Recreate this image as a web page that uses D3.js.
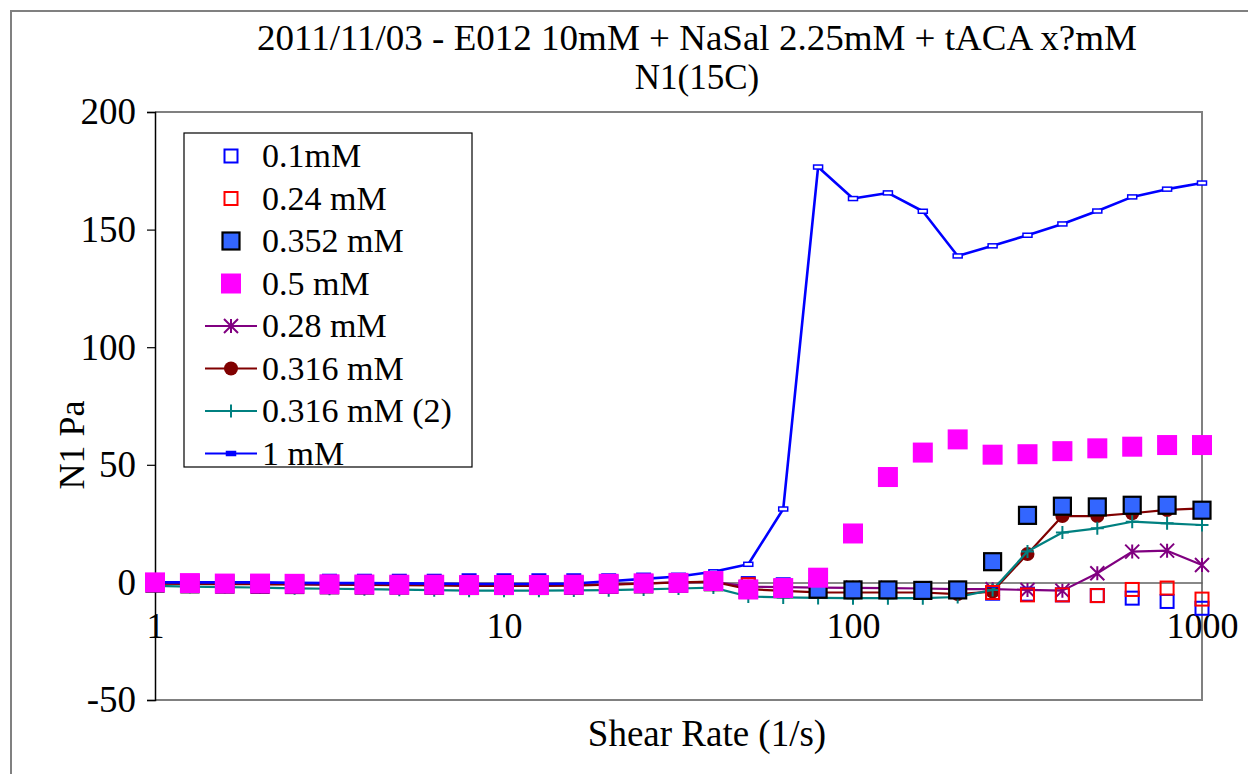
<!DOCTYPE html>
<html lang="en">
<head>
<meta charset="UTF-8">
<title>N1(15C)</title>
<script src="https://d3js.org/d3.v7.min.js"></script>
<style>
    body { margin: 0; padding: 0; background: white; }
    svg { display: block; font-family: "Liberation Serif", "Times New Roman", serif; }
</style>
</head>
<body>
<div id="chart"></div>
<script>
// shear rate (1/s)
const shearRate = [1, 1.259, 1.585, 2, 2.512, 3.162, 3.981, 5.012, 6.31, 7.943,
    10, 12.59, 15.85, 19.95, 25.12, 31.62, 39.81, 50.12, 63.1, 79.43,
    100, 125.9, 158.5, 199.5, 251.2, 316.2, 398.1, 501.2, 631, 794.3, 1000];

// N1 (Pa) per tACA concentration
const n1_01 = [0.3, 0.3, 0.3, 0.3, 0.3, 0.5, 0.5, 0.5, 0.5, 0.7, 0.7, 0.7, 0.7, 0.7, 1, 1, 1.5,
    -0.5, -1, -3.5, -3.5, -3.5, -3.5, -3.5, -4.6, -5, -5.3, -5.6, -6.7, -8.1, -11];
const n1_024 = [0, 0, 0, 0, 0, 0, 0, 0, 0, 0, 0, 0, 0, 0, 0, 0, 0,
    -1, -1.5, -3.5, -3.5, -3.5, -3.5, -3.5, -4.3, -5.3, -5.3, -5.6, -3, -2.4, -7.1];
const n1_0352 = [-0.3, -0.6, -0.7, -0.8, -0.9, -1, -1.1, -1.1, -1.2, -1.3, -1.3, -1.3, -1.2, -0.8, -0.6, -0.3, 0.3,
    -3, -2.6, -2.9, -3.2, -3.2, -3.4, -3.2, 8.8, 28.5, 32.4, 32.1, 32.8, 32.8, 30.7];
const n1_05 = [0, -0.3, -0.5, -0.5, -0.6, -0.8, -0.9, -1, -1, -1.1, -1.1, -1.1, -1, -0.6, -0.4, -0.2, 0.6,
    -3, -2.4, 2, 20.8, 44.8, 55.2, 60.8, 54.3, 54.5, 55.8, 57, 57.7, 58.4, 58.4];
const n1_028 = [-0.3, -0.4, -0.5, -0.6, -0.7, -0.8, -0.9, -1, -1.1, -1.2, -1.2, -1.2, -1.1, -0.8, -0.4, 0, 0.2,
    -1.8, -2, -2.2, -2.3, -2.4, -2.6, -2.9, -2.9, -3.2, -3.5, 3.9, 13.1, 13.5, 7.4];
const n1_0316 = [-0.5, -0.6, -0.7, -0.8, -0.9, -1, -1.1, -1.2, -1.3, -1.5, -1.5, -1.5, -1.4, -1, -0.5, 0, 0.3,
    -2.9, -3.6, -4.2, -4.3, -4.3, -4.3, -5, -3.9, 12.1, 28.2, 28.2, 29.4, 30.8, 31.5];
const n1_0316b = [-1.5, -1.8, -2, -2.2, -2.5, -2.7, -2.9, -3.1, -3.3, -3.5, -3.5, -3.5, -3.4, -3.3, -3, -2.6, -2.2,
    -6, -6.4, -6.6, -6.7, -6.7, -6.7, -6.2, -3.2, 13.1, 21.2, 23, 25.8, 25.1, 24.4];
const n1_1 = [0, 0, 0, 0, -0.2, -0.3, -0.3, -0.4, -0.5, -0.7, -0.7, -0.7, -0.5, 0.5, 1.5, 2.5, 4.5,
    7.7, 31.2, 176.6, 163.2, 165.6, 157.8, 138.8, 143.1, 147.6, 152.4, 157.9, 163.9, 167.2, 169.8];

const xTicks = [1, 10, 100, 1000];
const yTicks = [-50, 0, 50, 100, 150, 200];

// series: name, values, colour, marker, line?
const series = [
    { name: "0.1mM", values: n1_01, color: "#0000ff", marker: "open", line: false },
    { name: "0.24 mM", values: n1_024, color: "#ff0000", marker: "open", line: false },
    { name: "0.352 mM", values: n1_0352, color: "#3366ff", marker: "boxed", line: false },
    { name: "0.5 mM", values: n1_05, color: "#ff00ff", marker: "big", line: false },
    { name: "0.28 mM", values: n1_028, color: "#800080", marker: "star", line: true },
    { name: "0.316 mM", values: n1_0316, color: "#800000", marker: "circle", line: true },
    { name: "0.316 mM (2)", values: n1_0316b, color: "#008080", marker: "plus", line: true },
    { name: "1 mM", values: n1_1, color: "#0000ff", marker: "dash", line: true }
];

const width = 1248, height = 774;
const plot = { left: 155, right: 1202, top: 112, bottom: 700 };

const svg = d3.select("#chart").append("svg")
    .attr("width", width).attr("height", height);

// outer chart frame
svg.append("rect")
    .attr("x", 11).attr("y", 11).attr("width", 1248).attr("height", 800)
    .attr("fill", "white").attr("stroke", "#808080").attr("stroke-width", 2);

const x = d3.scaleLog().domain([1, 1000]).range([plot.left, plot.right]);
const y = d3.scaleLinear().domain([-50, 200]).range([plot.bottom, plot.top]);

// plot area border (top, right, bottom)
svg.append("path")
    .attr("d", `M${plot.left},${plot.top}H${plot.right}V${plot.bottom}H${plot.left}`)
    .attr("fill", "none").attr("stroke", "#808080").attr("stroke-width", 2);

// y axis
const yAxis = svg.append("g")
    .attr("transform", `translate(${plot.left},0)`)
    .call(d3.axisLeft(y).tickValues(yTicks).tickSize(8).tickPadding(11).tickFormat(d => String(d)));
yAxis.select(".domain").attr("stroke", "#000").attr("stroke-width", 1.5);
yAxis.selectAll(".tick line").attr("stroke", "#000").attr("stroke-width", 1.2);
yAxis.selectAll("text").attr("font-size", 37).attr("font-family", "Liberation Serif").attr("fill", "#000");

// x axis crossing at y = 0, labels below
const xAxis = svg.append("g")
    .attr("transform", `translate(0,${y(0)})`)
    .call(d3.axisBottom(x).tickValues(xTicks).tickSize(0).tickPadding(30).tickFormat(d => String(d)));
xAxis.select(".domain").attr("stroke", "#606060").attr("stroke-width", 1.5);
xAxis.selectAll("text").attr("font-size", 36).attr("font-family", "Liberation Serif").attr("fill", "#000");

// marker drawing
function drawMarker(g, type, color, cx, cy, legend) {
    if (type === "open") {
        g.append("rect").attr("x", cx - 6.5).attr("y", cy - 6.5).attr("width", 13).attr("height", 13)
            .attr("fill", "none").attr("stroke", color).attr("stroke-width", 2);
    } else if (type === "boxed") {
        g.append("rect").attr("x", cx - 8.5).attr("y", cy - 8.5).attr("width", 17).attr("height", 17)
            .attr("fill", color).attr("stroke", "#000").attr("stroke-width", 2.2);
    } else if (type === "big") {
        g.append("rect").attr("x", cx - 10).attr("y", cy - 10).attr("width", 20).attr("height", 20)
            .attr("fill", color);
    } else if (type === "star") {
        const s = 7;
        g.append("path")
            .attr("d", `M${cx - s},${cy - s}L${cx + s},${cy + s}M${cx - s},${cy + s}L${cx + s},${cy - s}M${cx},${cy - s}V${cy + s}`)
            .attr("stroke", color).attr("stroke-width", 2);
    } else if (type === "circle") {
        g.append("circle").attr("cx", cx).attr("cy", cy).attr("r", 7).attr("fill", color);
    } else if (type === "plus") {
        const s = 6.5;
        g.append("path")
            .attr("d", `M${cx - s},${cy}H${cx + s}M${cx},${cy - s}V${cy + s}`)
            .attr("stroke", color).attr("stroke-width", 2);
    } else if (type === "dash") {
        g.append("rect").attr("x", cx - 4.5).attr("y", cy - 2).attr("width", 9).attr("height", 4)
            .attr("fill", legend ? color : "white").attr("stroke", color).attr("stroke-width", 1.5);
    }
}

const line = d3.line()
    .x((d, i) => x(shearRate[i]))
    .y(d => y(d));

// lines and their markers first, then the marker-only series on top
const lineSeries = series.filter(s => s.line);
const dotSeries = series.filter(s => !s.line);

lineSeries.forEach(s => {
    const g = svg.append("g");
    g.append("path").datum(s.values)
        .attr("d", line).attr("fill", "none")
        .attr("stroke", s.color).attr("stroke-width", s.marker === "dash" ? 2.6 : 2.2)
        .attr("stroke-linejoin", "round");
    s.values.forEach((v, i) => drawMarker(g, s.marker, s.color, x(shearRate[i]), y(v)));
});

dotSeries.forEach(s => {
    const g = svg.append("g");
    s.values.forEach((v, i) => drawMarker(g, s.marker, s.color, x(shearRate[i]), y(v)));
});

// legend
const legend = svg.append("g");
legend.append("rect")
    .attr("x", 184).attr("y", 133).attr("width", 288).attr("height", 334)
    .attr("fill", "white").attr("stroke", "#000").attr("stroke-width", 1.2);
series.forEach((s, i) => {
    const cy = 156 + i * 42.5;
    const g = legend.append("g");
    if (s.line) {
        g.append("line").attr("x1", 205).attr("x2", 257).attr("y1", cy).attr("y2", cy)
            .attr("stroke", s.color).attr("stroke-width", 2.2);
    }
    drawMarker(g, s.marker, s.color, 231, cy, true);
    g.append("text").attr("x", 262).attr("y", cy + 11)
        .attr("font-size", 34).attr("fill", "#000").text(s.name);
});

// titles
svg.append("text").attr("x", 697).attr("y", 50).attr("text-anchor", "middle")
    .attr("font-size", 35).attr("textLength", 880).attr("lengthAdjust", "spacingAndGlyphs")
    .text("2011/11/03 - E012 10mM + NaSal 2.25mM + tACA x?mM");
svg.append("text").attr("x", 697).attr("y", 89).attr("text-anchor", "middle")
    .attr("font-size", 35).text("N1(15C)");
svg.append("text").attr("x", 707).attr("y", 746).attr("text-anchor", "middle")
    .attr("font-size", 37).text("Shear Rate (1/s)");
svg.append("text").attr("transform", "translate(84,445) rotate(-90)").attr("text-anchor", "middle")
    .attr("font-size", 36).text("N1 Pa");
</script>
</body>
</html>
